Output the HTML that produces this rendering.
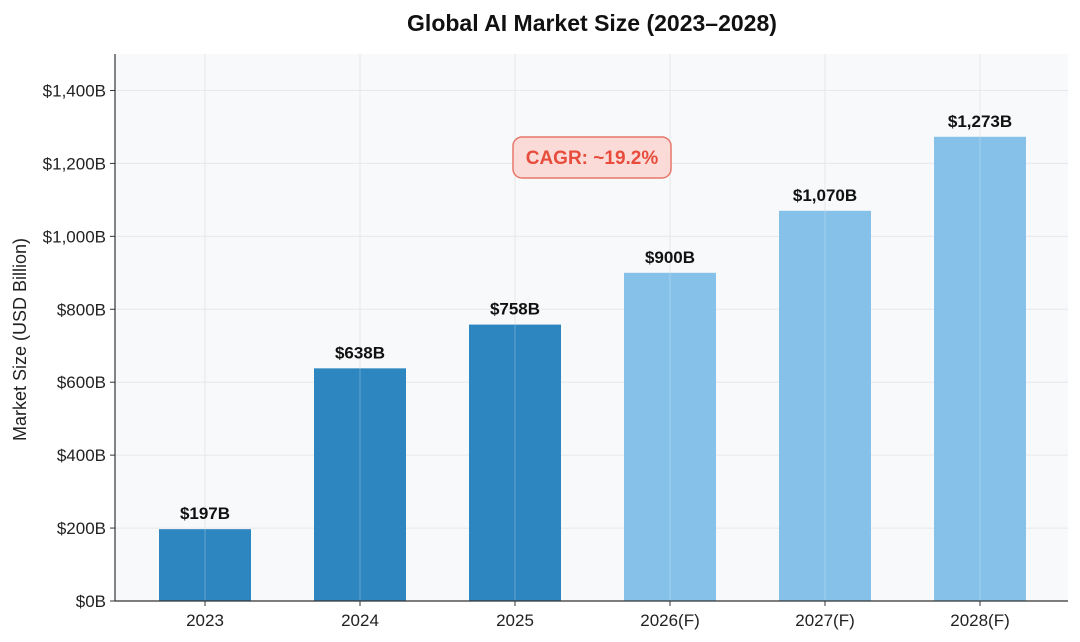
<!DOCTYPE html>
<html><head><meta charset="utf-8"><style>
body{margin:0;background:#fff;}
svg{display:block;font-family:"Liberation Sans",sans-serif;}
</style></head><body>
<svg id="c" width="1080" height="642"></svg>
<script>
const categories=["2023","2024","2025","2026(F)","2027(F)","2028(F)"];
const values=[197,638,758,900,1070,1273];
const valueLabels=["$197B","$638B","$758B","$900B","$1,070B","$1,273B"];
const forecast=[false,false,false,true,true,true];
const yTicks=[0,200,400,600,800,1000,1200,1400];
const yTickLabels=["$0B","$200B","$400B","$600B","$800B","$1,000B","$1,200B","$1,400B"];
const NS="http://www.w3.org/2000/svg";
const svg=document.getElementById('c');
const L=115,R=1068,T=54,B=601,yMax=1500;
const y=v=>B-(v/yMax)*(B-T);
const step=155, x0=205;
const x=i=>x0+i*step;
function mk(t,a,p){const e=document.createElementNS(NS,t);for(const k in a)e.setAttribute(k,a[k]);(p||svg).appendChild(e);return e;}
let e=mk('rect',{x:L,y:T,width:R-L,height:B-T,fill:'#f8f9fa'});

yTicks.forEach((v,i)=>{
 let g=mk('line',{x1:L,x2:R,y1:y(v),y2:y(v),stroke:'#e6e8eb','stroke-width':1});
 
 let tk=mk('line',{x1:L-5,x2:L,y1:y(v),y2:y(v),stroke:'#333'});
 
 let t=mk('text',{x:L-9,y:y(v)+6,'text-anchor':'end','font-size':17,fill:'#222'});t.textContent=yTickLabels[i];
 
});
categories.forEach((c,i)=>{
 let g=mk('line',{x1:x(i),x2:x(i),y1:T,y2:B,stroke:'#e6e8eb'});
 
});
const bw=92;
categories.forEach((c,i)=>{
 let r=mk('rect',{x:x(i)-bw/2,y:y(values[i]),width:bw,height:B-y(values[i]),fill:forecast[i]?'#85c1e9':'#2e86c1'});
 
 let gl=mk('line',{x1:x(i),x2:x(i),y1:y(values[i]),y2:B,stroke:'rgba(255,255,255,0.25)'});
 
 let t=mk('text',{x:x(i),y:y(values[i])-10,'text-anchor':'middle','font-size':17,'font-weight':'bold',fill:'#111'});t.textContent=valueLabels[i];
 
 let tk=mk('line',{x1:x(i),x2:x(i),y1:B,y2:B+5,stroke:'#333'});
 
 let xl=mk('text',{x:x(i),y:B+25,'text-anchor':'middle','font-size':17,fill:'#222'});xl.textContent=c;
 
});
let ax=mk('line',{x1:L,x2:L,y1:T,y2:B,stroke:'#333','stroke-width':1.2});

ax=mk('line',{x1:L,x2:R,y1:B,y2:B,stroke:'#333','stroke-width':1.2});

let yt=mk('text',{x:26,y:(T+B)/2+12,'text-anchor':'middle','font-size':18,fill:'#222',transform:'rotate(-90 26 '+((T+B)/2+12)+')'});
yt.textContent='Market Size (USD Billion)';

let tt=mk('text',{x:592,y:31,'text-anchor':'middle','font-size':23,'font-weight':'bold',fill:'#111'});
tt.textContent='Global AI Market Size (2023–2028)';

let bx=mk('rect',{x:513,y:137,width:158,height:41,rx:9,fill:'#fadbd8',stroke:'#e8776a','stroke-width':1.5});

let ct=mk('text',{x:592,y:164,'text-anchor':'middle','font-size':19,'font-weight':'bold',fill:'#e74c3c'});
ct.textContent='CAGR: ~19.2%';

</script>
</body></html>
